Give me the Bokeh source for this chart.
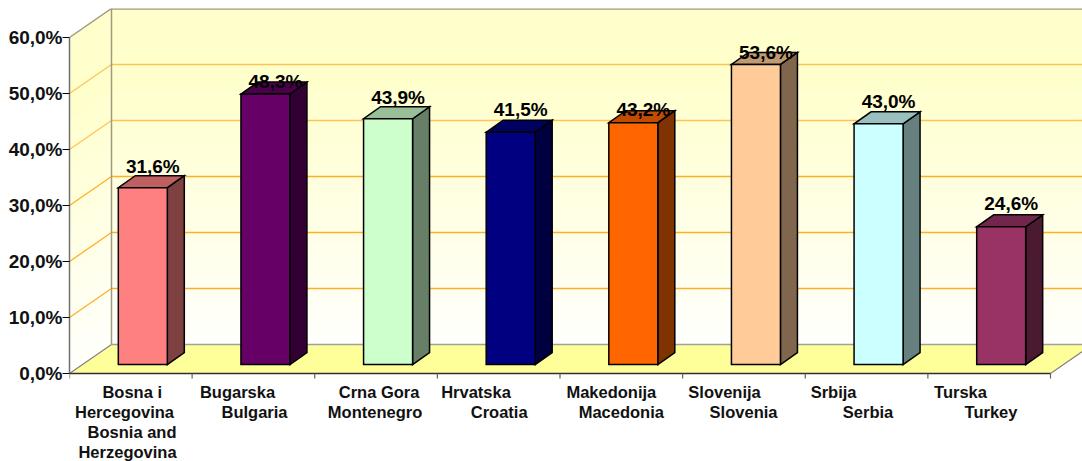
from bokeh.plotting import figure
from bokeh.embed import file_html
from bokeh.resources import INLINE
from bokeh.models import Label, FixedTicker, Range1d, LinearAxis

# ---- data ----
categories = ["Bosna i Hercegovina / Bosnia and Herzegovina", "Bugarska / Bulgaria",
              "Crna Gora / Montenegro", "Hrvatska / Croatia", "Makedonija / Macedonia",
              "Slovenija / Slovenia", "Srbija / Serbia", "Turska / Turkey"]
values = [31.6, 48.3, 43.9, 41.5, 43.2, 53.6, 43.0, 24.6]
value_labels = ["31,6%", "48,3%", "43,9%", "41,5%", "43,2%", "53,6%", "43,0%", "24,6%"]
y_ticks = [0, 10, 20, 30, 40, 50, 60]
y_tick_labels = ["0,0%", "10,0%", "20,0%", "30,0%", "40,0%", "50,0%", "60,0%"]
category_lines = [
    ["Bosna i", "Hercegovina", "Bosnia and", "Herzegovina"],
    ["Bugarska", "Bulgaria"],
    ["Crna Gora", "Montenegro"],
    ["Hrvatska", "Croatia"],
    ["Makedonija", "Macedonia"],
    ["Slovenija", "Slovenia"],
    ["Srbija", "Serbia"],
    ["Turska", "Turkey"],
]

# ---- styles and layout ----
front_colors = ["#FF8080", "#660066", "#CCFFCC", "#000080", "#FF6600", "#FFCC99", "#CCFFFF", "#993366"]
line_x_shift = [[1.4, -6.3, 1.2, -3.3], [-15.9, 1.1], [3, -1], [-22.7, 0.5], [-10, 0], [-19.4, -0.4], [-33, 1.5], [-28.7, 1.8]]
label_dy = [21, 12.6, 21, 22.5, 13, 12, 22, 23]
FONT = "Liberation Sans"
PXX, PXY = 122.625, 5.6            # pixels per category, pixels per percent
WALL_DX, WALL_DY = 42 / PXX, 29 / PXY
BAR_DX, BAR_DY = 17 / PXX, 12 / PXY
OFF_DX, OFF_DY = 12 / PXX, 8.9 / PXY
BAR_W = 49 / PXX
FRAME_W, FRAME_H, BELOW = 1013, 365, 88
TICK_LEN = 5 / PXY
N = len(values)
TOP = y_ticks[-1]


def shade(hex_color, factor):
    r, g, b = (int(hex_color[i:i + 2], 16) for i in (1, 3, 5))
    return "#%02X%02X%02X" % (int(r * factor), int(g * factor), int(b * factor))


p = figure(width=1082, height=461, output_backend="svg", toolbar_location=None,
           x_range=Range1d(0, FRAME_W / PXX), y_range=Range1d(-BELOW / PXY, FRAME_H / PXY),
           min_border_left=69, min_border_right=0, min_border_top=8, min_border_bottom=0,
           x_axis_location=None, y_axis_location=None, background_fill_color="white",
           border_fill_color="white", outline_line_color=None)
p.xgrid.visible = False
p.ygrid.visible = False

# walls with a vertical fade
steps = 40
for k in range(steps):
    a = TOP * k / steps
    b = TOP * (k + 1) / steps + 0.05
    t = (k + 0.5) / steps
    col = "#FFFF%02X" % int(0xFD - (0xFD - 0xCC) * min(1, t * 1.25))
    p.quad(left=[WALL_DX], right=[N + WALL_DX], bottom=[a + WALL_DY], top=[min(b, TOP) + WALL_DY],
           fill_color=col, line_color=None)
    p.patch([0, WALL_DX, WALL_DX, 0], [a, a + WALL_DY, min(b, TOP) + WALL_DY, min(b, TOP)],
            fill_color=col, line_color=None)

# floor
p.patch([0, N, N + WALL_DX, WALL_DX], [0, 0, WALL_DY, WALL_DY], fill_color="#FFFF99", line_color=None)

# gridlines
for v in y_ticks[1:-1]:
    col = "#FFC355" if v >= 40 else "#FFB020"
    p.line([WALL_DX, N + WALL_DX], [v + WALL_DY, v + WALL_DY], line_color=col, line_width=1.3)
    p.line([0, WALL_DX], [v, v + WALL_DY], line_color=col, line_width=1.3)

# wall edges
EDGE = "#A0A0A0"
p.line([WALL_DX, N + WALL_DX], [WALL_DY, WALL_DY], line_color=EDGE, line_width=1.5)
p.line([0, WALL_DX], [0, WALL_DY], line_color="#808080", line_width=1.2)
p.line([N, N + WALL_DX], [0, WALL_DY], line_color="#808080", line_width=1.2)
p.line([WALL_DX, WALL_DX], [WALL_DY, TOP + WALL_DY], line_color="#A09880", line_width=1.5)
p.line([0, WALL_DX], [TOP, TOP + WALL_DY], line_color="#A09880", line_width=1.5)
p.line([WALL_DX, N + WALL_DX], [TOP + WALL_DY, TOP + WALL_DY], line_color="#A09880", line_width=2.5)

# front floor edge and category ticks
p.line([0, N], [0, 0], line_color="#303030", line_width=1.5)
p.segment(x0=list(range(N + 1)), x1=list(range(N + 1)), y0=[0] * (N + 1), y1=[-TICK_LEN] * (N + 1),
          line_color="#606060", line_width=1.2)

# 3-D bars
for i, v in enumerate(values):
    x0 = i + 0.5 - BAR_W / 2 + OFF_DX
    x1 = x0 + BAR_W
    y0 = OFF_DY
    y1 = OFF_DY + v
    c = front_colors[i]
    kw = dict(line_color="black", line_width=1.5, line_join="miter")
    p.patch([x1, x1 + BAR_DX, x1 + BAR_DX, x1], [y0, y0 + BAR_DY, y1 + BAR_DY, y1], fill_color=shade(c, 0.5), **kw)
    p.patch([x0, x1, x1 + BAR_DX, x0 + BAR_DX], [y1, y1, y1 + BAR_DY, y1 + BAR_DY], fill_color=shade(c, 0.75), **kw)
    p.patch([x0, x1, x1, x0], [y0, y0, y1, y1], fill_color=c, **kw)

# value labels
for i, v in enumerate(values):
    p.add_layout(Label(x=i + 0.5 + OFF_DX, y=OFF_DY + v, text=value_labels[i],
                       x_offset=10, y_offset=label_dy[i],
                       text_align="center", text_baseline="alphabetic", text_font=FONT,
                       text_font_size="19px", text_font_style="bold", text_color="black"))

# value axis
yax = LinearAxis(ticker=FixedTicker(ticks=y_ticks), bounds=(0, TOP),
                 major_label_overrides={t: l for t, l in zip(y_ticks, y_tick_labels)},
                 major_tick_in=0, major_tick_out=7, minor_tick_line_color=None,
                 major_tick_line_color="black", axis_line_color="#707070", axis_line_width=1.5,
                 major_label_standoff=0, major_label_text_font=FONT, major_label_text_font_size="19px",
                 major_label_text_font_style="bold", major_label_text_color="#111111")
p.add_layout(yax, "left")

# category labels, one line per row
for i, lines in enumerate(category_lines):
    for j, line in enumerate(lines):
        p.add_layout(Label(x=i + 0.5, y=0, text=line, x_offset=line_x_shift[i][j], y_offset=-(18 + 20 * j),
                           text_align="center", text_baseline="middle", text_font=FONT,
                           text_font_size="16.5px", text_font_style="bold", text_color="#111111"))

open("out.html", "w").write(file_html(p, INLINE))
